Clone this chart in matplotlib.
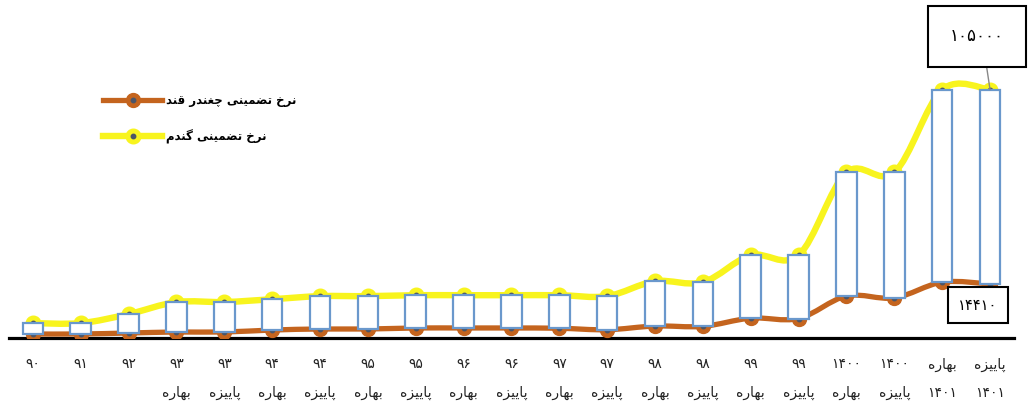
import matplotlib
matplotlib.use("Agg")
import matplotlib.pyplot as plt
from matplotlib.path import Path
from matplotlib.patches import PathPatch, Rectangle
from matplotlib.lines import Line2D

# ---- data -------------------------------------------------------------
top_row = ['۹۰', '۹۱', '۹۲', '۹۳', '۹۳', '۹۴', '۹۴', '۹۵', '۹۵', '۹۶', '۹۶',
           '۹۷', '۹۷', '۹۸', '۹۸', '۹۹', '۹۹', '۱۴۰۰', '۱۴۰۰', 'بهاره', 'پاییزه']
bottom_row = ['', '', '', 'بهاره', 'پاییزه', 'بهاره', 'پاییزه', 'بهاره', 'پاییزه',
              'بهاره', 'پاییزه', 'بهاره', 'پاییزه', 'بهاره', 'پاییزه', 'بهاره',
              'پاییزه', 'بهاره', 'پاییزه', '۱۴۰۱', '۱۴۰۱']

# guaranteed purchase price of wheat (rials / kg)
wheat = [6300, 6300, 10100, 15200, 15200, 16400, 17700, 17700, 18100, 18100, 18100,
         18100, 17700, 24000, 23600, 35000, 35000, 70000, 70000, 105000, 105000]
# guaranteed purchase price of sugar beet (rials / kg)
beet = [1070, 1070, 1330, 1600, 1600, 2130, 2400, 2400, 2670, 2670, 2670,
        2600, 2200, 3200, 3100, 5300, 5200, 11200, 10700, 14900, 14410]

wheat_name = 'نرخ تضمینی گندم'
beet_name = 'نرخ تضمینی چغندر قند'

# ---- minimal Persian shaping (presentation forms, visual order) -------
FORMS = {
    'ا': ('\uFE8D', '\uFE8E', None, None),
    'ب': ('\uFE8F', '\uFE90', '\uFE91', '\uFE92'),
    'پ': ('\uFB56', '\uFB57', '\uFB58', '\uFB59'),
    'ت': ('\uFE95', '\uFE96', '\uFE97', '\uFE98'),
    'خ': ('\uFEA5', '\uFEA6', '\uFEA7', '\uFEA8'),
    'چ': ('\uFB7A', '\uFB7B', '\uFB7C', '\uFB7D'),
    'د': ('\uFEA9', '\uFEAA', None, None),
    'ر': ('\uFEAD', '\uFEAE', None, None),
    'ز': ('\uFEAF', '\uFEB0', None, None),
    'ض': ('\uFEBD', '\uFEBE', '\uFEBF', '\uFEC0'),
    'غ': ('\uFECD', '\uFECE', '\uFECF', '\uFED0'),
    'ق': ('\uFED5', '\uFED6', '\uFED7', '\uFED8'),
    'گ': ('\uFB92', '\uFB93', '\uFB94', '\uFB95'),
    'م': ('\uFEE1', '\uFEE2', '\uFEE3', '\uFEE4'),
    'ن': ('\uFEE5', '\uFEE6', '\uFEE7', '\uFEE8'),
    'ه': ('\uFEE9', '\uFEEA', '\uFEEB', '\uFEEC'),
    'ی': ('\uFBFC', '\uFBFD', '\uFBFE', '\uFBFF'),
}


def shape(text):
    if not any(c in FORMS for c in text):
        return text
    out = []
    for i, c in enumerate(text):
        if c not in FORMS:
            out.append(c)
            continue
        iso, fin, ini, med = FORMS[c]
        prev = text[i - 1] if i > 0 else ''
        nxt = text[i + 1] if i + 1 < len(text) else ''
        jp = prev in FORMS and FORMS[prev][2] is not None
        jn = ini is not None and nxt in FORMS
        if jp and jn:
            out.append(med)
        elif jp:
            out.append(fin)
        elif jn:
            out.append(ini)
        else:
            out.append(iso)
    return ''.join(reversed(out))


def fa_digits(v):
    return str(v).translate(str.maketrans('0123456789', '۰۱۲۳۴۵۶۷۸۹'))


plt.rcParams['font.family'] = ['DejaVu Sans']

# ---- colours ----------------------------------------------------------
YELLOW = '#F8F41E'
BROWN = '#C4641E'
BAR_EDGE = '#6A98CC'
DOT = '#4B5568'

fig = plt.figure(figsize=(10.31, 4.16), dpi=100)
ax = fig.add_axes([0.0087, 0.1875, 0.9748, 0.7163])
ax2 = ax.twinx()
x = list(range(len(wheat)))

ax.set_xlim(-0.5, len(wheat) - 0.5)
ax.set_ylim(0, 126000)
ax2.set_ylim(0, 79500)


def smooth_path(xs, ys):
    """Cubic Bezier path through the points (Excel-style smoothing)."""
    verts = [(xs[0], ys[0])]
    codes = [Path.MOVETO]
    n = len(xs)
    for i in range(n - 1):
        x0, y0 = (xs[i - 1], ys[i - 1]) if i > 0 else (xs[i], ys[i])
        x1, y1 = xs[i], ys[i]
        x2, y2 = xs[i + 1], ys[i + 1]
        x3, y3 = (xs[i + 2], ys[i + 2]) if i + 2 < n else (x2, y2)
        c1 = (x1 + (x2 - x0) / 6, y1 + (y2 - y0) / 6)
        c2 = (x2 - (x3 - x1) / 6, y2 - (y3 - y1) / 6)
        verts += [c1, c2, (x2, y2)]
        codes += [Path.CURVE4] * 3
    return Path(verts, codes)


# wheat series on the primary axis
ax.add_patch(PathPatch(smooth_path(x, wheat), fill=False, edgecolor=YELLOW,
                       lw=4.6, capstyle='round', joinstyle='round', zorder=2))
ax.plot(x, wheat, ls='none', marker='o', ms=10.5, mfc=YELLOW, mec=YELLOW, zorder=3)
ax.plot(x, wheat, ls='none', marker='o', ms=3.2, mfc=DOT, mec=DOT, zorder=3)

# sugar beet series on the secondary axis
ax2.add_patch(PathPatch(smooth_path(x, beet), fill=False, edgecolor=BROWN,
                        lw=3.8, capstyle='round', joinstyle='round', zorder=2))
ax2.plot(x, beet, ls='none', marker='o', ms=10, mfc=BROWN, mec=BROWN, zorder=3)
ax2.plot(x, beet, ls='none', marker='o', ms=3.2, mfc=DOT, mec=DOT, zorder=3)

# up/down bars between the two series
fig.canvas.draw()
to_ax2 = ax.transData + ax2.transData.inverted()
bar_w = 0.43
for xi, w, b in zip(x, wheat, beet):
    top = to_ax2.transform((xi, w))[1]
    ax2.add_patch(Rectangle((xi - bar_w / 2, b), bar_w, top - b,
                            facecolor='white', edgecolor=BAR_EDGE, lw=1.6, zorder=4))

# axes styling
for a in (ax, ax2):
    for s in ('top', 'right', 'left'):
        a.spines[s].set_visible(False)
    a.set_yticks([])
ax2.spines['bottom'].set_visible(False)
ax.spines['bottom'].set_linewidth(2.3)
ax.spines['bottom'].set_color('black')
ax.spines['bottom'].set_zorder(5)

labels = [shape(t) + ('\n' + shape(b) if b else '') for t, b in zip(top_row, bottom_row)]
ax.set_xticks(x)
ax.set_xticklabels(labels, fontsize=10, linespacing=2.35, color='#222222')
ax.tick_params(axis='x', length=0, pad=14)

# value call-outs for the last category
ax2.annotate(fa_digits(wheat[-1]), xy=(x[-1], to_ax2.transform((x[-1], wheat[-1]))[1]),
             xytext=(-9.5, 38.5), textcoords='offset points', ha='center', va='center',
             fontsize=12, zorder=6,
             bbox=dict(boxstyle='square,pad=1.3', fc='white', ec='black', lw=1.5),
             arrowprops=dict(arrowstyle='-', color='#888888', lw=1.0, relpos=(0.62, 0),
                             shrinkA=0, shrinkB=0))
ax2.annotate(fa_digits(beet[-1]), xy=(x[-1], beet[-1]),
             xytext=(-8.6, -15.3), textcoords='offset points', ha='center', va='center',
             fontsize=10.5, zorder=6,
             bbox=dict(boxstyle='square,pad=0.72', fc='white', ec='black', lw=1.5))

# legend
h_beet = (Line2D([], [], color=BROWN, lw=3.8, marker='o', ms=10, mfc=BROWN, mec=BROWN),
          Line2D([], [], ls='none', marker='o', ms=3.2, mfc=DOT, mec=DOT))
h_wheat = (Line2D([], [], color=YELLOW, lw=4.6, marker='o', ms=10.5, mfc=YELLOW, mec=YELLOW),
           Line2D([], [], ls='none', marker='o', ms=3.2, mfc=DOT, mec=DOT))
fig.legend([h_beet, h_wheat], [shape(beet_name), shape(wheat_name)],
           loc='upper left', bbox_to_anchor=(103 / 1031, 1 - 94 / 416),
           frameon=False, borderpad=0, borderaxespad=0, handlelength=5.0,
           handletextpad=0.35, labelspacing=1.9, prop=dict(size=8.5, weight='bold'))

fig.savefig('out.png', dpi=100)
